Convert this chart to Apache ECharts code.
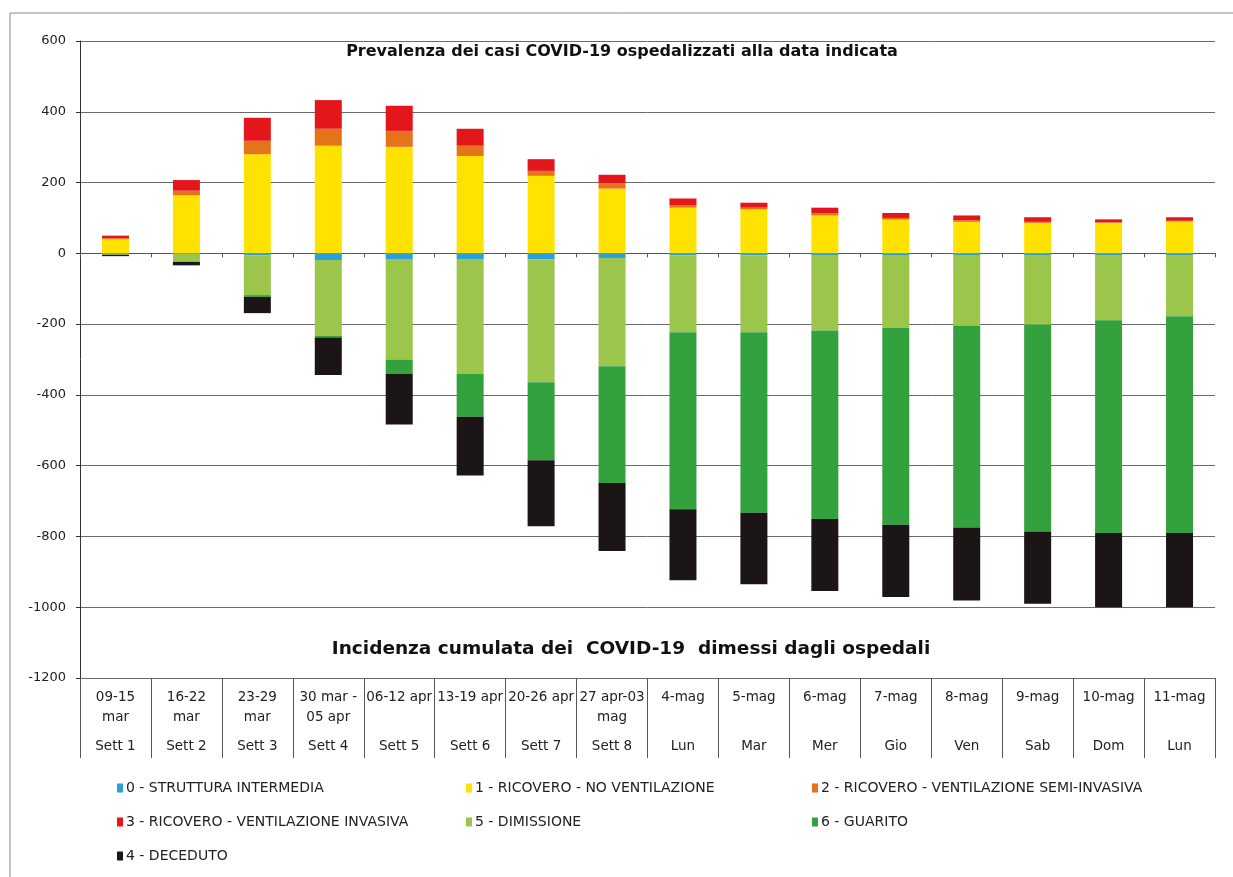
<!DOCTYPE html>
<html>
<head>
<meta charset="utf-8">
<script src="https://cdn.jsdelivr.net/npm/echarts@6/dist/echarts.min.js"></script>
<style>
html,body{margin:0;padding:0;background:#fff;}
#chart{width:1233px;height:877px;}
</style>
</head>
<body>
<div id="chart"></div>
<script>
// ---- data ----
const dateLabels = ['09-15\nmar','16-22\nmar','23-29\nmar','30 mar -\n05 apr','06-12 apr','13-19 apr','20-26 apr','27 apr-03\nmag','4-mag','5-mag','6-mag','7-mag','8-mag','9-mag','10-mag','11-mag'];
const weekLabels = ['Sett 1','Sett 2','Sett 3','Sett 4','Sett 5','Sett 6','Sett 7','Sett 8','Lun','Mar','Mer','Gio','Ven','Sab','Dom','Lun'];
const yTicks = [600,400,200,0,-200,-400,-600,-800,-1000,-1200];

const strutturaIntermedia = [-1,0,-6,-19,-18,-16,-17,-13,-6,-6,-5,-5,-5,-5,-5,-5];
const noVentilazione      = [40,164,280,304,301,275,219,183,129,124,107,95,89,86,86,90];
const semiInvasiva        = [3,13,38,48,45,29,14,15,7,5,6,5,4,3,2,2];
const invasiva            = [7,30,65,81,71,48,33,24,19,14,16,14,14,13,8,10];
const dimissione          = [-3,-24,-112,-214,-282,-325,-347,-306,-217,-217,-213,-205,-199,-197,-184,-173];
const guarito             = [0,0,-5,-5,-41,-121,-221,-330,-500,-510,-533,-557,-571,-584,-601,-612];
const deceduto            = [-4,-10,-46,-106,-143,-166,-186,-192,-201,-202,-203,-204,-206,-204,-210,-210];

const seriesDefs = [
  {name:'0 - STRUTTURA INTERMEDIA', data:strutturaIntermedia, color:'#2aa0da'},
  {name:'1 - RICOVERO - NO VENTILAZIONE', data:noVentilazione, color:'#ffe200'},
  {name:'2 - RICOVERO - VENTILAZIONE SEMI-INVASIVA', data:semiInvasiva, color:'#e4731c'},
  {name:'3 - RICOVERO - VENTILAZIONE INVASIVA', data:invasiva, color:'#e3161b'},
  {name:'5 - DIMISSIONE', data:dimissione, color:'#9cc54c'},
  {name:'6 - GUARITO', data:guarito, color:'#34a13f'},
  {name:'4 - DECEDUTO', data:deceduto, color:'#1b1515'}
];
const legendPos = [
  [117,781],[466,781],[812,781],
  [117,815],[466,815],[812,815],
  [117,849]
];

const FONT = 'DejaVu Sans';
const chart = echarts.init(document.getElementById('chart'));

const option = {
  animation:false,
  backgroundColor:'#fff',
  grid:{left:80, right:18, top:41, bottom:199, containLabel:false},
  xAxis:[
    {
      type:'category', data:dateLabels, position:'bottom',
      axisLine:{show:true, onZero:true, lineStyle:{color:'#555', width:1}},
      axisTick:{show:true, length:4, alignWithLabel:false, lineStyle:{color:'#555'}},
      axisLabel:{show:false}, splitLine:{show:false}
    },
    {
      type:'category', data:dateLabels, position:'bottom',
      axisLine:{show:false, onZero:false},
      axisTick:{show:true, length:80, alignWithLabel:false, lineStyle:{color:'#555'}},
      axisLabel:{
        show:true, interval:0, margin:9,
        formatter:function(v, i){
          const parts = v.split('\n');
          const l1 = parts[0];
          const l2 = parts.length>1 ? parts[1] : '\u00a0';
          return '{d|'+l1+'}\n{d|'+l2+'}\n{s|'+weekLabels[i]+'}';
        },
        rich:{
          d:{fontFamily:FONT, fontSize:13.5, color:'#222', lineHeight:20, align:'center'},
          s:{fontFamily:FONT, fontSize:13.5, color:'#222', lineHeight:38, align:'center'}
        }
      },
      splitLine:{show:false}
    }
  ],
  yAxis:{
    type:'value', min:-1200, max:600, interval:200,
    axisLine:{show:true, lineStyle:{color:'#333', width:1}},
    axisTick:{show:true, length:4, lineStyle:{color:'#333'}},
    axisLabel:{fontFamily:FONT, fontSize:13, color:'#222', margin:14,
      customValues:yTicks, formatter:function(v){ return String(v); }},
    splitLine:{show:true, lineStyle:{color:'#6a6a6a', width:1}}
  },
  legend: seriesDefs.map((s,i)=>({
    data:[s.name], left:legendPos[i][0], top:legendPos[i][1], padding:0,
    icon:'rect', itemWidth:6, itemHeight:9, itemGap:0,
    textStyle:{fontFamily:FONT, fontSize:14, color:'#222', padding:[0,0,0,-2]},
    selectedMode:false
  })),
  series: seriesDefs.map(s=>({
    name:s.name, type:'bar', stack:'tot', data:s.data, barWidth:27,
    xAxisIndex:0, itemStyle:{color:s.color}
  })),
  graphic:[
    {type:'line', shape:{x1:10, y1:13, x2:1233, y2:13}, style:{stroke:'#8a8a8a', lineWidth:1}, silent:true},
    {type:'line', shape:{x1:10, y1:13, x2:10, y2:877}, style:{stroke:'#8a8a8a', lineWidth:1}, silent:true},
    {type:'text', x:622, y:52, silent:true,
      style:{text:'Prevalenza dei casi COVID-19 ospedalizzati alla data indicata', font:'bold 16px "DejaVu Sans"', fill:'#111', textAlign:'center', textVerticalAlign:'middle'}},
    {type:'text', x:631, y:649, silent:true,
      style:{text:'Incidenza cumulata dei  COVID-19  dimessi dagli ospedali', font:'bold 18.5px "DejaVu Sans"', fill:'#111', textAlign:'center', textVerticalAlign:'middle'}}
  ]
};
chart.setOption(option);
</script>
</body>
</html>
